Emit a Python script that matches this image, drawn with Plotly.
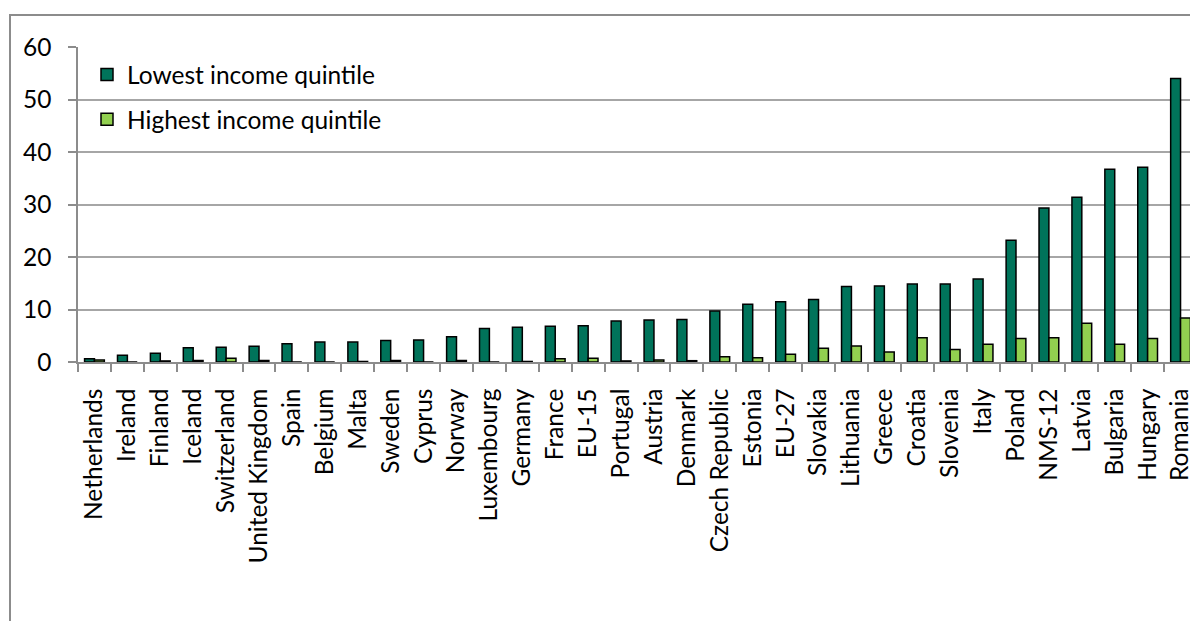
import plotly.graph_objects as go

countries = ["Netherlands", "Ireland", "Finland", "Iceland", "Switzerland", "United Kingdom",
             "Spain", "Belgium", "Malta", "Sweden", "Cyprus", "Norway", "Luxembourg", "Germany",
             "France", "EU-15", "Portugal", "Austria", "Denmark", "Czech Republic", "Estonia",
             "EU-27", "Slovakia", "Lithuania", "Greece", "Croatia", "Slovenia", "Italy", "Poland",
             "NMS-12", "Latvia", "Bulgaria", "Hungary", "Romania"]

lowest = [0.6, 1.3, 1.65, 2.7, 2.8, 3.0, 3.5, 3.8, 3.8, 4.1, 4.2, 4.8, 6.4, 6.6,
          6.8, 6.9, 7.8, 8.0, 8.1, 9.7, 11.0, 11.5, 11.9, 14.4, 14.5, 14.85, 14.85,
          15.8, 23.2, 29.35, 31.4, 36.7, 37.1, 54.0]

highest = [0.4, 0.0, 0.2, 0.3, 0.7, 0.3, 0.0, 0.0, 0.1, 0.3, 0.0, 0.3, 0.0, 0.1,
           0.6, 0.7, 0.2, 0.4, 0.25, 1.0, 0.8, 1.5, 2.6, 3.05, 1.9, 4.6, 2.4,
           3.4, 4.5, 4.6, 7.4, 3.4, 4.5, 8.4]

DARK = "#00735A"
LIGHT = "#92D050"
FONT = "Lato"
FS = 24.5

fig = go.Figure()
fig.add_trace(go.Bar(x=countries, y=lowest, name="Lowest income quintile",
                     marker=dict(color=DARK, line=dict(color="#000000", width=1.5)),
                     legendgroup="a"))
fig.add_trace(go.Bar(x=countries, y=highest, name="Highest income quintile",
                     marker=dict(color=LIGHT, line=dict(color="#000000", width=1.5)),
                     legendgroup="b"))

# page has an 8px body margin; figure coordinates are page coordinates minus 8
W, H = 1190, 613
L, R, T, B = 70, 1, 39, 259
pw = W - L - R
ph = H - T - B

def px_x(px):
    return (px - L) / pw

def px_y(py):
    return (H - B - py) / ph

fig.update_layout(
    width=W, height=H,
    margin=dict(l=L, r=R, t=T, b=B, pad=0),
    paper_bgcolor="white", plot_bgcolor="white",
    barmode="group", bargap=0.4, bargroupgap=0.0,
    font=dict(family=FONT, size=FS, color="#000000"),
    showlegend=True,
    legend=dict(x=px_x(79), y=px_y(44), xanchor="left", yanchor="top",
                bgcolor="rgba(0,0,0,0)", borderwidth=0,
                font=dict(family=FONT, size=FS, color="#000000"),
                traceorder="grouped", tracegroupgap=10),
    xaxis=dict(type="category", showgrid=False, showline=True, linecolor="#8C8C8C",
               linewidth=1.5, ticks="outside", ticklen=8, tickcolor="#8C8C8C",
               tickwidth=1.5, tickson="boundaries", tickangle=-90,
               tickfont=dict(family=FONT, size=FS, color="#000000"),
               ticklabelstandoff=15),
    yaxis=dict(range=[0, 60], tickvals=[0, 10, 20, 30, 40, 50, 60],
               showgrid=True, gridcolor="#A6A6A6", gridwidth=1.5,
               showline=True, linecolor="#8C8C8C", linewidth=1.5,
               ticks="outside", ticklen=8, tickcolor="#8C8C8C", tickwidth=1.5,
               tickfont=dict(family=FONT, size=FS, color="#000000"),
               zeroline=False, ticklabelstandoff=12),
    shapes=[dict(type="rect", xref="paper", yref="paper",
                 x0=px_x(2), x1=px_x(1210), y0=px_y(640), y1=px_y(7),
                 line=dict(color="#8C8C8C", width=2), fillcolor="rgba(0,0,0,0)",
                 layer="below")],
)

fig.write_html("out.html")
